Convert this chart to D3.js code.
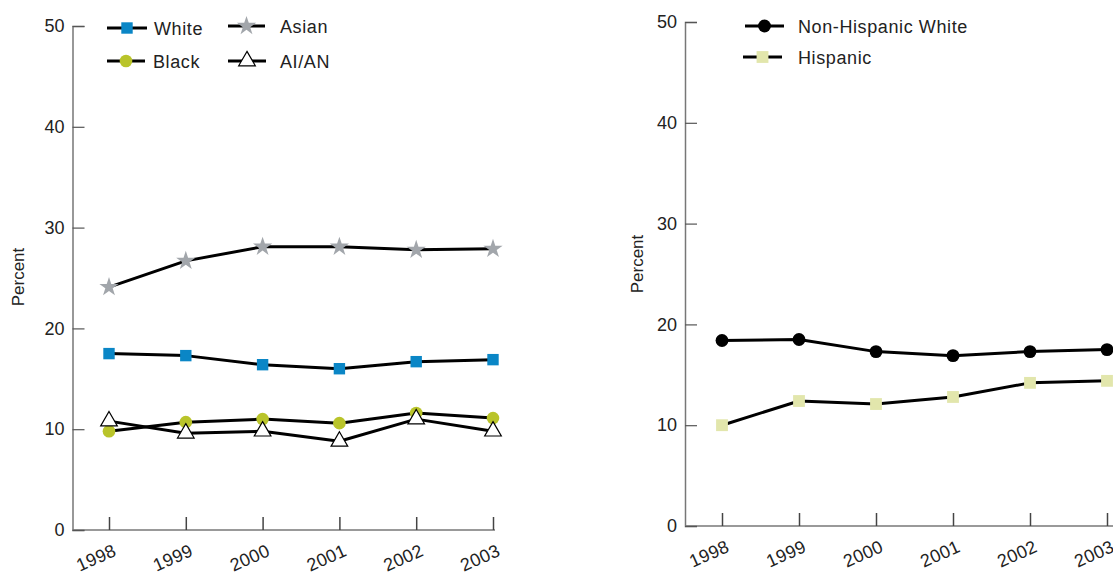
<!DOCTYPE html>
<html><head><meta charset="utf-8">
<script src="https://cdn.jsdelivr.net/npm/d3@7"></script>
<style>body{margin:0;background:#fff;} text{font-family:"Liberation Sans",Arial,sans-serif;}</style>
</head><body>
<svg id="c" width="1113" height="574"></svg>
<script>
const years = [1998, 1999, 2000, 2001, 2002, 2003];
const yTicks = [0, 10, 20, 30, 40, 50];
const white = [17.5, 17.3, 16.4, 16.0, 16.7, 16.9];
const asian = [24.1, 26.7, 28.1, 28.1, 27.8, 27.9];
const black = [9.8, 10.7, 11.0, 10.6, 11.6, 11.1];
const aian = [10.8, 9.6, 9.8, 8.8, 11.0, 9.8];
const nhWhite = [18.4, 18.5, 17.3, 16.9, 17.3, 17.5];
const hispanic = [10.0, 12.4, 12.1, 12.8, 14.2, 14.4];

const svg = d3.select("#c");
const FS = 18;

function panel(cfg) {
  const g = svg.append("g");
  const x = d3.scaleLinear().domain([1998, 2003]).range(cfg.xr);
  const y = d3.scaleLinear().domain([0, 50]).range(cfg.yr);
  g.append("line").attr("x1", cfg.ax).attr("x2", cfg.xend)
    .attr("y1", y(0)).attr("y2", y(0)).attr("stroke", "#777").attr("stroke-width", 1.5);
  const ya = g.append("g").attr("transform", `translate(${cfg.ax},0)`)
    .call(d3.axisLeft(y).tickValues(yTicks).tickSize(-12).tickPadding(8));
  ya.select(".domain").attr("stroke", "#777").attr("stroke-width", 1.5);
  ya.selectAll(".tick line").attr("stroke", "#555").attr("stroke-width", 1.2);
  ya.selectAll(".tick text").attr("font-size", FS).attr("fill", "#222")
    .attr("font-family", "Liberation Sans, Arial, sans-serif");
  const xa = g.append("g").attr("transform", `translate(0,${y(0)})`)
    .call(d3.axisBottom(x).tickValues(years).tickFormat(d3.format("d")).tickSize(-13));
  xa.select(".domain").remove();
  xa.selectAll(".tick line").attr("stroke", "#444").attr("stroke-width", 1.5);
  xa.selectAll(".tick text").attr("font-size", FS).attr("fill", "#222")
    .attr("font-family", "Liberation Sans, Arial, sans-serif")
    .attr("text-anchor", "end").attr("dy", 0).attr("y", 0).attr("letter-spacing", 0.3)
    .attr("transform", "translate(8,25) rotate(-24)");
  g.append("text").attr("transform", `translate(${cfg.lblx},${cfg.lbly}) rotate(-90)`)
    .attr("text-anchor", "middle").attr("font-size", 17).attr("fill", "#222").text("Percent");
  return {g, x, y};
}

function drawMarker(sel, type, size, fill, stroke, sw) {
  sel.append("path").attr("d", d3.symbol().type(type).size(size))
    .attr("fill", fill).attr("stroke", stroke).attr("stroke-width", sw);
}

const series1 = [
  {name: "White", data: white, type: d3.symbolSquare, size: 130, fill: "#0a86c6", stroke: "none", sw: 0},
  {name: "Asian", data: asian, type: d3.symbolStar, size: 115, fill: "#a2a6ab", stroke: "none", sw: 0},
  {name: "Black", data: black, type: d3.symbolCircle, size: 125, fill: "#b9c42a", stroke: "none", sw: 0},
  {name: "AI/AN", data: aian, type: d3.symbolTriangle, size: 120, fill: "#fff", stroke: "#000", sw: 1.2}
];
const series2 = [
  {name: "Non-Hispanic White", data: nhWhite, type: d3.symbolCircle, size: 130, fill: "#000", stroke: "none", sw: 0},
  {name: "Hispanic", data: hispanic, type: d3.symbolSquare, size: 140, fill: "#e2e6ac", stroke: "none", sw: 0}
];

function drawSeries(p, series) {
  const line = d3.line().x((d, i) => p.x(years[i])).y(d => p.y(d));
  series.forEach(s => {
    p.g.append("path").datum(s.data).attr("d", line)
      .attr("fill", "none").attr("stroke", "#000").attr("stroke-width", 3).attr("stroke-linejoin", "round");
  });
  series.forEach(s => {
    s.data.forEach((d, i) => {
      const m = p.g.append("g").attr("transform", `translate(${p.x(years[i])},${p.y(d)})`);
      drawMarker(m, s.type, s.size, s.fill, s.stroke, s.sw);
    });
  });
}

function legendItem(g, s, lx1, lx2, ly, tx) {
  g.append("line").attr("x1", lx1).attr("x2", lx2).attr("y1", ly).attr("y2", ly)
    .attr("stroke", "#000").attr("stroke-width", 3);
  const m = g.append("g").attr("transform", `translate(${(lx1 + lx2) / 2},${ly})`);
  drawMarker(m, s.type, s.size, s.fill, s.stroke, s.sw);
  g.append("text").attr("x", tx).attr("y", ly + 6.5).attr("font-size", FS)
    .attr("letter-spacing", 0.6).attr("fill", "#222").text(s.name);
}

const p1 = panel({xr: [109, 493], yr: [530, 26], ax: 72.5, xend: 495, lblx: 24, lbly: 277});
drawSeries(p1, series1);
legendItem(p1.g, series1[0], 107, 147, 28, 154);
legendItem(p1.g, series1[1], 228, 265, 26, 280);
legendItem(p1.g, series1[2], 107, 145, 61, 153);
legendItem(p1.g, series1[3], 228, 266, 61, 280);

const p2 = panel({xr: [722, 1107], yr: [526, 22], ax: 685, xend: 1113, lblx: 643, lbly: 264});
drawSeries(p2, series2);
legendItem(p2.g, series2[0], 745, 784, 26, 798);
legendItem(p2.g, series2[1], 743, 782, 57, 798);
</script>
</body></html>
